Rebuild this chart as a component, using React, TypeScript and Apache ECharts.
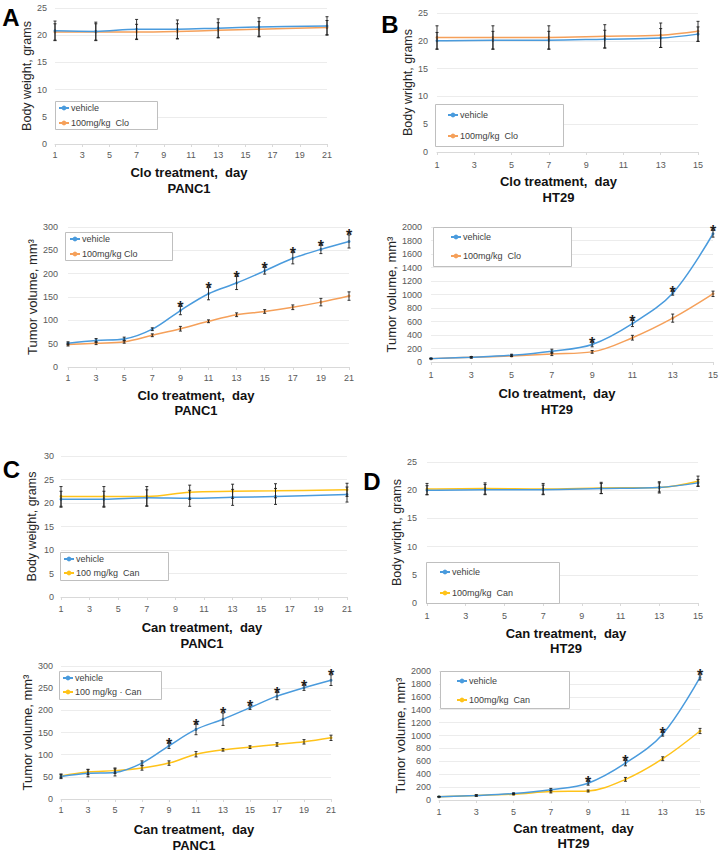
import React, { useEffect, useRef } from 'react';
import * as echarts from 'echarts';

// ---------- categories / tick labels ----------
const DAYS_21 = ['1','2','3','4','5','6','7','8','9','10','11','12','13','14','15','16','17','18','19','20','21'];
const DAYS_15 = ['1','2','3','4','5','6','7','8','9','10','11','12','13','14','15'];

// ---------- A: PANC1, Clo, body weight ----------
const A_BW_DAYS = [1, 4, 7, 10, 13, 16, 21];
const A_BW_VEH = [20.8, 20.7, 21.1, 21.1, 21.3, 21.5, 21.7];
const A_BW_VEH_SD = [1.8, 1.7, 1.8, 1.7, 1.7, 1.7, 1.7];
const A_BW_CLO = [20.6, 20.6, 20.6, 20.7, 20.9, 21.1, 21.4];
const A_BW_CLO_SD = [1.5, 1.5, 1.4, 1.4, 1.4, 1.4, 1.3];

// ---------- B: HT29, Clo, body weight ----------
const B_BW_DAYS = [1, 4, 7, 10, 13, 15];
const B_BW_VEH = [20.0, 20.1, 20.1, 20.3, 20.5, 21.2];
const B_BW_VEH_SD = [1.5, 1.6, 1.6, 1.6, 1.7, 1.3];
const B_BW_CLO = [20.6, 20.6, 20.6, 20.8, 21.0, 21.7];
const B_BW_CLO_SD = [2.1, 2.1, 2.1, 2.1, 2.2, 1.8];

// ---------- A: PANC1, Clo, tumor volume ----------
const A_TV_DAYS = [1, 3, 5, 7, 9, 11, 13, 15, 17, 19, 21];
const A_TV_VEH = [51, 57, 60, 81, 121, 157, 180, 206, 233, 252, 269];
const A_TV_VEH_SD = [3, 4, 4, 3, 9, 13, 14, 7, 12, 9, 14];
const A_TV_CLO = [48, 51, 54, 68, 82, 98, 112, 119, 128, 139, 152];
const A_TV_CLO_SD = [3, 3, 3, 3, 5, 3, 4, 4, 5, 8, 9];
const A_TV_STARS = [9, 11, 13, 15, 17, 19, 21];

// ---------- B: HT29, Clo, tumor volume ----------
const B_TV_DAYS = [1, 3, 5, 7, 9, 11, 13, 15];
const B_TV_VEH = [50, 70, 100, 160, 260, 570, 1020, 1900];
const B_TV_VEH_SD = [5, 10, 15, 30, 35, 45, 30, 50];
const B_TV_CLO = [50, 70, 90, 120, 150, 360, 650, 1010];
const B_TV_CLO_SD = [5, 10, 10, 25, 20, 35, 60, 40];
const B_TV_STARS = [9, 11, 13, 15];

// ---------- C: PANC1, Can, body weight ----------
const C_BW_DAYS = [1, 4, 7, 10, 13, 16, 21];
const C_BW_VEH = [20.8, 20.8, 21.1, 21.0, 21.2, 21.4, 21.8];
const C_BW_VEH_SD = [1.7, 1.7, 1.7, 1.7, 1.7, 1.7, 1.6];
const C_BW_CAN = [21.4, 21.4, 21.4, 22.3, 22.5, 22.6, 22.8];
const C_BW_CAN_SD = [2.1, 2.1, 2.1, 1.5, 1.5, 1.5, 1.4];

// ---------- D: HT29, Can, body weight ----------
const D_BW_DAYS = [1, 4, 7, 10, 13, 15];
const D_BW_VEH = [20.0, 20.1, 20.1, 20.3, 20.5, 21.3];
const D_BW_VEH_SD = [0.8, 0.9, 0.8, 0.9, 0.8, 0.6];
const D_BW_CAN = [20.2, 20.3, 20.2, 20.4, 20.5, 21.6];
const D_BW_CAN_SD = [1.0, 1.0, 1.0, 1.0, 1.0, 0.9];

// ---------- C: PANC1, Can, tumor volume ----------
const C_TV_DAYS = [1, 3, 5, 7, 9, 11, 13, 15, 17, 19, 21];
const C_TV_VEH = [51, 58, 60, 81, 120, 157, 180, 206, 232, 251, 268];
const C_TV_VEH_SD = [5, 8, 8, 5, 6, 12, 14, 4, 8, 6, 12];
const C_TV_CAN = [52, 61, 64, 70, 81, 101, 111, 117, 123, 129, 138];
const C_TV_CAN_SD = [4, 6, 6, 5, 5, 6, 3, 3, 4, 5, 6];
const C_TV_STARS = [9, 11, 13, 15, 17, 19, 21];

// ---------- D: HT29, Can, tumor volume ----------
const D_TV_DAYS = [1, 3, 5, 7, 9, 11, 13, 15];
const D_TV_VEH = [50, 70, 100, 160, 260, 570, 1020, 1900];
const D_TV_VEH_SD = [5, 10, 10, 20, 30, 40, 30, 40];
const D_TV_CAN = [50, 70, 90, 130, 140, 320, 640, 1070];
const D_TV_CAN_SD = [5, 10, 10, 20, 15, 30, 30, 40];
const D_TV_STARS = [9, 11, 13, 15];

// ---------- styling ----------
const FONT = "'Liberation Sans', Arial, sans-serif";
const BLUE = '#4A9BDD';
const ORANGE = '#F5A05A';
const YELLOW = '#FFC31A';

const PANELS: any[] = [
  {
    id: 'aBW', grid: { left: 55, top: 8, width: 272, height: 136 }, cats: DAYS_21,
    days: A_BW_DAYS, veh: A_BW_VEH, vehSd: A_BW_VEH_SD, trt: A_BW_CLO, trtSd: A_BW_CLO_SD,
    trtName: '100mg/kg  Clo', trtColor: ORANGE, yMax: 25, yInt: 5, yName: 'Body weight, grams', yNameSize: 12.5, yGap: 20, yLabMargin: 8,
    xName: 'Clo treatment,  day\nPANC1', xGap: 20, xLh: 16, xPad: [0, 4, 0, 0], xLabMargin: 6,
    box: [55, 101, 102, 28], lg: [58, 102, 3], stars: [],
  },
  {
    id: 'bBW', grid: { left: 437, top: 13, width: 261, height: 139 }, cats: DAYS_15,
    days: B_BW_DAYS, veh: B_BW_VEH, vehSd: B_BW_VEH_SD, trt: B_BW_CLO, trtSd: B_BW_CLO_SD,
    trtName: '100mg/kg  Clo', trtColor: ORANGE, yMax: 25, yInt: 5, yName: 'Body wright, grams', yNameSize: 12.5, yGap: 21, yLabMargin: 9,
    xName: 'Clo treatment,  day\nHT29', xGap: 21, xLh: 16, xPad: [0, 18, 0, 0], xLabMargin: 8,
    box: [435, 104, 128, 42], lg: [447, 109, 9], stars: [],
  },
  {
    id: 'aTV', grid: { left: 68, top: 227, width: 281, height: 140 }, cats: DAYS_21,
    days: A_TV_DAYS, veh: A_TV_VEH, vehSd: A_TV_VEH_SD, trt: A_TV_CLO, trtSd: A_TV_CLO_SD,
    trtName: '100mg/kg Clo', trtColor: ORANGE, yMax: 300, yInt: 50, yName: 'Tumor volume, mm³', yNameSize: 13, yGap: 26, yLabMargin: 10,
    xName: 'Clo treatment,  day\nPANC1', xGap: 21, xLh: 15, xPad: [0, 25, 0, 0], xLabMargin: 6,
    box: [65, 232, 107, 28], lg: [69, 233, 3], stars: A_TV_STARS,
  },
  {
    id: 'bTV', grid: { left: 431, top: 227, width: 282, height: 135 }, cats: DAYS_15,
    days: B_TV_DAYS, veh: B_TV_VEH, vehSd: B_TV_VEH_SD, trt: B_TV_CLO, trtSd: B_TV_CLO_SD,
    trtName: '100mg/kg  Clo', trtColor: ORANGE, yMax: 2000, yInt: 200, yName: 'Tumor volume, mm³', yNameSize: 13, yGap: 31, yLabMargin: 9,
    xName: 'Clo treatment,  day\nHT29', xGap: 23, xLh: 16, xPad: [0, 30, 0, 0], xLabMargin: 8,
    box: [433, 227, 138, 39], lg: [450, 231, 7], stars: B_TV_STARS,
  },
  {
    id: 'cBW', grid: { left: 61, top: 456, width: 286, height: 141 }, cats: DAYS_21,
    days: C_BW_DAYS, veh: C_BW_VEH, vehSd: C_BW_VEH_SD, trt: C_BW_CAN, trtSd: C_BW_CAN_SD,
    trtName: '100 mg/kg  Can', trtColor: YELLOW, yMax: 30, yInt: 5, yName: 'Body weight, grams', yNameSize: 12.5, yGap: 23, yLabMargin: 7,
    xName: 'Can treatment,  day\nPANC1', xGap: 22, xLh: 16, xPad: [0, 4, 0, 0], xLabMargin: 7,
    box: [60, 552, 108, 28], lg: [63, 553, 2], stars: [],
  },
  {
    id: 'dBW', grid: { left: 427, top: 462, width: 271, height: 141 }, cats: DAYS_15,
    days: D_BW_DAYS, veh: D_BW_VEH, vehSd: D_BW_VEH_SD, trt: D_BW_CAN, trtSd: D_BW_CAN_SD,
    trtName: '100mg/kg  Can', trtColor: YELLOW, yMax: 25, yInt: 5, yName: 'Body wright, grams', yNameSize: 12.5, yGap: 23, yLabMargin: 10,
    xName: 'Can treatment,  day\nHT29', xGap: 23, xLh: 15, xPad: [0, 0, 0, 7], xLabMargin: 8,
    box: [426, 562, 133, 41], lg: [439, 566, 9], stars: [],
  },
  {
    id: 'cTV', grid: { left: 61, top: 666, width: 270, height: 136 }, cats: DAYS_21,
    days: C_TV_DAYS, veh: C_TV_VEH, vehSd: C_TV_VEH_SD, trt: C_TV_CAN, trtSd: C_TV_CAN_SD,
    trtName: '100 mg/kg · Can', trtColor: YELLOW, yMax: 300, yInt: 50, yName: 'Tumor volume, mm³', yNameSize: 13, yGap: 24, yLabMargin: 8,
    xName: 'Can treatment,  day\nPANC1', xGap: 22, xLh: 16, xPad: [0, 4, 0, 0], xLabMargin: 6,
    box: [59, 671, 102, 28], lg: [62, 672, 2], stars: C_TV_STARS,
  },
  {
    id: 'dTV', grid: { left: 439, top: 671, width: 261, height: 129 }, cats: DAYS_15,
    days: D_TV_DAYS, veh: D_TV_VEH, vehSd: D_TV_VEH_SD, trt: D_TV_CAN, trtSd: D_TV_CAN_SD,
    trtName: '100mg/kg  Can', trtColor: YELLOW, yMax: 2000, yInt: 200, yName: 'Tumor volume, mm³', yNameSize: 13, yGap: 29, yLabMargin: 8,
    xName: 'Can treatment,  day\nHT29', xGap: 21, xLh: 15, xPad: [0, 0, 0, 8], xLabMargin: 7,
    box: [440, 671, 129, 37], lg: [456, 675, 7], stars: D_TV_STARS,
  },
];

const LETTERS = [
  { t: 'A', x: 11, y: 17 },
  { t: 'B', x: 390, y: 24 },
  { t: 'C', x: 11.5, y: 469 },
  { t: 'D', x: 372, y: 481 },
];

function errRender(params: any, api: any) {
  const x = api.value(0);
  const lo = api.coord([x, api.value(1)]);
  const hi = api.coord([x, api.value(2)]);
  const c = 1.5;
  const st = { stroke: '#1e1e1e', lineWidth: 0.9 };
  return {
    type: 'group',
    children: [
      { type: 'line', shape: { x1: lo[0], y1: lo[1], x2: hi[0], y2: hi[1] }, style: st },
      { type: 'line', shape: { x1: lo[0] - c, y1: lo[1], x2: lo[0] + c, y2: lo[1] }, style: st },
      { type: 'line', shape: { x1: hi[0] - c, y1: hi[1], x2: hi[0] + c, y2: hi[1] }, style: st },
    ],
  };
}

function starRender(params: any, api: any) {
  const p = api.coord([api.value(0), api.value(1)]);
  return {
    type: 'text',
    x: p[0],
    y: p[1] + 1,
    style: { text: '*', fill: '#1e1e1e', font: `bold 16px ${FONT}`, align: 'center', verticalAlign: 'middle' },
  };
}

function buildOption() {
  const grid: any[] = [];
  const xAxis: any[] = [];
  const yAxis: any[] = [];
  const series: any[] = [];
  const legend: any[] = [];
  const graphic: any[] = [];

  PANELS.forEach((p, i) => {
    grid.push({ ...p.grid, containLabel: false });
    xAxis.push({
      type: 'category', gridIndex: i, data: p.cats, boundaryGap: false,
      axisLine: { lineStyle: { color: '#d9d9d9', width: 1 } },
      axisTick: { show: true, interval: 1, length: 3, lineStyle: { color: '#d9d9d9' } },
      axisLabel: { interval: 1, fontSize: 9, color: '#595959', margin: p.xLabMargin, fontFamily: FONT },
      splitLine: { show: false },
      name: p.xName, nameLocation: 'middle', nameGap: p.xGap,
      nameTextStyle: { fontSize: 13, fontWeight: 'bold', color: '#111', lineHeight: p.xLh, fontFamily: FONT, padding: p.xPad },
    });
    yAxis.push({
      type: 'value', gridIndex: i, min: 0, max: p.yMax, interval: p.yInt,
      axisLine: { show: false }, axisTick: { show: false },
      axisLabel: { fontSize: 9, color: '#595959', margin: p.yLabMargin, fontFamily: FONT, formatter: (v: number) => String(v) },
      splitLine: { lineStyle: { color: '#ececec', width: 1 } },
      name: p.yName, nameLocation: 'middle', nameGap: p.yGap,
      nameTextStyle: { fontSize: p.yNameSize, color: '#262626', fontFamily: FONT },
    });

    const mk = (vals: number[]) => p.days.map((d: number, k: number) => [String(d), vals[k]]);
    const mkErr = (vals: number[], sd: number[]) => p.days.map((d: number, k: number) => [String(d), vals[k] - sd[k], vals[k] + sd[k]]);

    series.push({
      type: 'line', name: 'vehicle', xAxisIndex: i, yAxisIndex: i, data: mk(p.veh),
      smooth: 0.35, symbol: 'circle', symbolSize: 3, lineStyle: { color: BLUE, width: 1.5 }, itemStyle: { color: BLUE }, z: 3,
    });
    series.push({
      type: 'line', name: p.trtName, xAxisIndex: i, yAxisIndex: i, data: mk(p.trt),
      smooth: 0.35, symbol: 'circle', symbolSize: 3, lineStyle: { color: p.trtColor, width: 1.5 }, itemStyle: { color: p.trtColor }, z: 2,
    });
    series.push({
      type: 'custom', name: `${p.id}-err-trt`, xAxisIndex: i, yAxisIndex: i, data: mkErr(p.trt, p.trtSd),
      renderItem: errRender, encode: { x: 0, y: [1, 2] }, z: 4, silent: true,
    });
    series.push({
      type: 'custom', name: `${p.id}-err-veh`, xAxisIndex: i, yAxisIndex: i, data: mkErr(p.veh, p.vehSd),
      renderItem: errRender, encode: { x: 0, y: [1, 2] }, z: 4, silent: true,
    });
    if (p.stars.length) {
      const starData = p.stars.map((d: number) => {
        const k = p.days.indexOf(d);
        return [String(d), p.veh[k] + p.vehSd[k]];
      });
      series.push({
        type: 'custom', name: `${p.id}-sig`, xAxisIndex: i, yAxisIndex: i, data: starData,
        renderItem: starRender, encode: { x: 0, y: 1 }, z: 5, silent: true,
      });
    }

    const [bx, by, bw, bh] = p.box;
    graphic.push({
      type: 'rect', shape: { x: bx + 0.5, y: by + 0.5, width: bw, height: bh },
      style: { fill: '#fff', stroke: '#bfbfbf', lineWidth: 1 }, z: 3,
    });
    legend.push({
      orient: 'vertical', left: p.lg[0], top: p.lg[1], itemGap: p.lg[2], padding: 0,
      itemWidth: 10, itemHeight: 6, selectedMode: false, z: 6,
      data: ['vehicle', p.trtName],
      textStyle: { fontSize: 9, color: '#404040', fontFamily: FONT, lineHeight: 12, padding: [0, 0, 0, -3] },
    });
  });

  LETTERS.forEach((l) => {
    graphic.push({
      type: 'text', x: l.x, y: l.y, z: 10,
      style: { text: l.t, font: `bold 24px ${FONT}`, fill: '#000', align: 'center', verticalAlign: 'middle' },
    });
  });

  return {
    animation: false,
    backgroundColor: '#fff',
    textStyle: { fontFamily: FONT },
    grid, xAxis, yAxis, series, legend, graphic,
  };
}

export default function App() {
  const ref = useRef<HTMLDivElement>(null);
  useEffect(() => {
    if (!ref.current) return;
    const chart = echarts.init(ref.current, undefined, { renderer: 'svg' });
    chart.setOption(buildOption());
    return () => chart.dispose();
  }, []);
  return <div ref={ref} style={{ position: 'absolute', left: 0, top: 0, width: 723, height: 854 }} />;
}
